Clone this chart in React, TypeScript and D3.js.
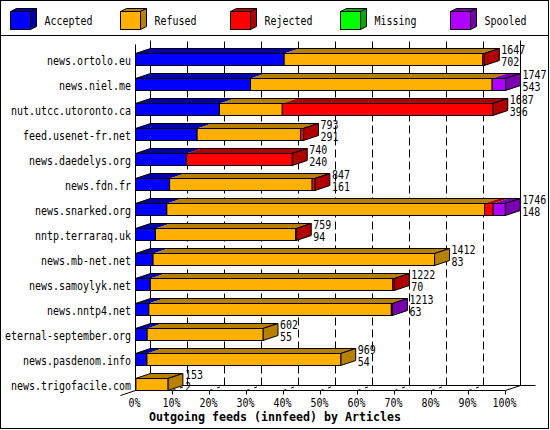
import React from "react";
import * as d3 from "d3";

const names = [
  "news.ortolo.eu",
  "news.niel.me",
  "nut.utcc.utoronto.ca",
  "feed.usenet-fr.net",
  "news.daedelys.org",
  "news.fdn.fr",
  "news.snarked.org",
  "nntp.terraraq.uk",
  "news.mb-net.net",
  "news.samoylyk.net",
  "news.nntp4.net",
  "eternal-september.org",
  "news.pasdenom.info",
  "news.trigofacile.com",
];
const totals = [1647, 1747, 1687, 793, 740, 847, 1746, 759, 1412, 1222, 1213, 602, 969, 153];
const accepted = [702, 543, 396, 291, 240, 161, 148, 94, 83, 70, 63, 55, 54, 2];
const refused = [938, 1141, 297, 488, 0, 673, 1500, 662, 1329, 1145, 1145, 547, 915, 151];
const rejected = [7, 0, 994, 14, 500, 13, 41, 3, 0, 7, 0, 0, 0, 0];
const missing = [0, 0, 0, 0, 0, 0, 0, 0, 0, 0, 0, 0, 0, 0];
const spooled = [0, 63, 0, 0, 0, 0, 57, 0, 0, 0, 5, 0, 0, 0];
const seriesNames = ["Accepted", "Refused", "Rejected", "Missing", "Spooled"];
const tickValues = [0, 10, 20, 30, 40, 50, 60, 70, 80, 90, 100];
const title = "Outgoing feeds (innfeed) by Articles";

const FRONT = ["#0000ff", "#ffb000", "#ff0000", "#00ff00", "#b000ff"];
const DARK = ["#0000a8", "#b88000", "#b00000", "#00a800", "#7800b0"];

const W = 550;
const H = 430;
const DX = 15;
const DY = 5;
const FONT = "'DejaVu Sans Mono', 'Liberation Mono', monospace";

const seriesValues = [accepted, refused, rejected, missing, spooled];
const table = names.map((n, i) => {
  const o: any = { name: n };
  seriesNames.forEach((s, k) => (o[s] = seriesValues[k][i]));
  return o;
});
const stacked = d3.stack().keys(seriesNames)(table as any);

const x = d3.scaleLinear().domain([0, d3.max(totals) as number]).range([135.5, 505.5]);
const pct = d3.scaleLinear().domain([0, 100]).range([135.5, 505.5]);
const y = d3.scaleBand().domain(names).range([40.5, 390.5]).padding(0);

const floorY = 390.5;
const backY = floorY - DY;
const topY = 40.5;

function T(props: any) {
  const { text, size = 12.5, adv = 6, bold = false, ...rest } = props;
  return (
    <text
      fontFamily={FONT}
      fontSize={size}
      fontWeight={bold ? "bold" : "normal"}
      textLength={text.length * adv}
      lengthAdjust="spacingAndGlyphs"
      fill="#000"
      {...rest}
    >
      {text}
    </text>
  );
}

function poly(pts: [number, number][]) {
  return pts.map((p) => p.join(",")).join(" ");
}

export default function App() {
  const x0 = pct(0);
  return (
    <svg
      width={W}
      height={H}
      style={{ position: "absolute", left: 0, top: 0, background: "#fff" }}
    >
      <rect x={0} y={0} width={W} height={H} fill="#fff" />
      <rect x={0.5} y={0.5} width={548} height={428} fill="none" stroke="#000" />
      <line x1={0} x2={549} y1={35.5} y2={35.5} stroke="#000" />

      {/* legend */}
      {seriesNames.map((s, k) => {
        const bx = 10.5 + 110 * k;
        const by = 11.5;
        const bw = 20;
        const bh = 18;
        const ld = 6;
        const lu = 3;
        return (
          <g key={s}>
            <polygon
              points={poly([
                [bx, by],
                [bx + bw, by],
                [bx + bw + ld, by - lu],
                [bx + ld, by - lu],
              ])}
              fill={DARK[k]}
              stroke="#000"
            />
            <polygon
              points={poly([
                [bx + bw, by],
                [bx + bw + ld, by - lu],
                [bx + bw + ld, by + bh - lu],
                [bx + bw, by + bh],
              ])}
              fill={DARK[k]}
              stroke="#000"
            />
            <rect x={bx} y={by} width={bw} height={bh} fill={FRONT[k]} stroke="#000" />
            <T text={s} x={bx + 34} y={25} />
          </g>
        );
      })}

      {/* back grid lines */}
      {tickValues.slice(1, -1).map((t) => (
        <line
          key={"g" + t}
          x1={pct(t) + DX}
          x2={pct(t) + DX}
          y1={backY}
          y2={topY}
          stroke="#000"
          strokeDasharray="8,4"
        />
      ))}
      <line x1={x0 + DX} x2={x0 + DX} y1={topY} y2={backY} stroke="#000" />
      <line x1={pct(100) + DX} x2={pct(100) + DX} y1={topY} y2={backY} stroke="#000" />

      {/* floor */}
      <line x1={x0} x2={pct(100)} y1={floorY} y2={floorY} stroke="#000" />
      <line x1={x0 + DX} x2={pct(100) + 2 * DX} y1={backY} y2={backY} stroke="#000" />
      <line x1={x0 - DX} y1={floorY + DY} x2={x0 + DX} y2={backY} stroke="#000" />
      <line x1={pct(100)} y1={floorY} x2={pct(100) + DX} y2={backY} stroke="#000" />
      {tickValues.slice(1).map((t) => (
        <g key={"t" + t}>
          <line x1={pct(t)} x2={pct(t)} y1={floorY} y2={floorY + 4} stroke="#000" />
          {t < 100 && (
            <line
              x1={pct(t)}
              y1={floorY}
              x2={pct(t) + DX}
              y2={backY}
              stroke="#000"
              strokeDasharray="3,5"
            />
          )}
        </g>
      ))}
      <line x1={x0} x2={x0} y1={44.5} y2={floorY} stroke="#000" />

      {/* bars */}
      {names.map((n, i) => {
        const bottom = (y(n) as number) + y.bandwidth();
        const top = bottom - 12;
        const segs = stacked
          .map((ser, k) => ({ k, a: ser[i][0], b: ser[i][1] }))
          .filter((s) => s.b > s.a);
        const xs = x(0);
        const xe = x(totals[i]);
        const last = segs[segs.length - 1];
        return (
          <g key={n}>
            {segs.map((s) => (
              <polygon
                key={"top" + s.k}
                points={poly([
                  [x(s.a), top],
                  [x(s.b), top],
                  [x(s.b) + DX, top - DY],
                  [x(s.a) + DX, top - DY],
                ])}
                fill={DARK[s.k]}
                stroke="none"
              />
            ))}
            <polygon
              points={poly([
                [xs, top],
                [xe, top],
                [xe + DX, top - DY],
                [xs + DX, top - DY],
              ])}
              fill="none"
              stroke="#000"
            />
            <polygon
              points={poly([
                [xe, top],
                [xe + DX, top - DY],
                [xe + DX, bottom - DY],
                [xe, bottom],
              ])}
              fill={DARK[last.k]}
              stroke="#000"
            />
            {segs.map((s) => (
              <rect
                key={"f" + s.k}
                x={x(s.a)}
                y={top}
                width={x(s.b) - x(s.a)}
                height={bottom - top}
                fill={FRONT[s.k]}
                stroke="#000"
              />
            ))}
            <T text={n} x={131} y={bottom - 0.5} textAnchor="end" />
            <T text={String(totals[i])} x={xe + DX + 2} y={top + 0.5} />
            <T text={String(accepted[i])} x={xe + DX + 2} y={bottom} />
          </g>
        );
      })}

      {/* x tick labels */}
      {tickValues.map((t) => (
        <T key={"l" + t} text={t + "%"} x={pct(t) - 1} y={407} textAnchor="middle" />
      ))}
      <T text={title} x={275} y={421} textAnchor="middle" bold adv={7} />
    </svg>
  );
}
